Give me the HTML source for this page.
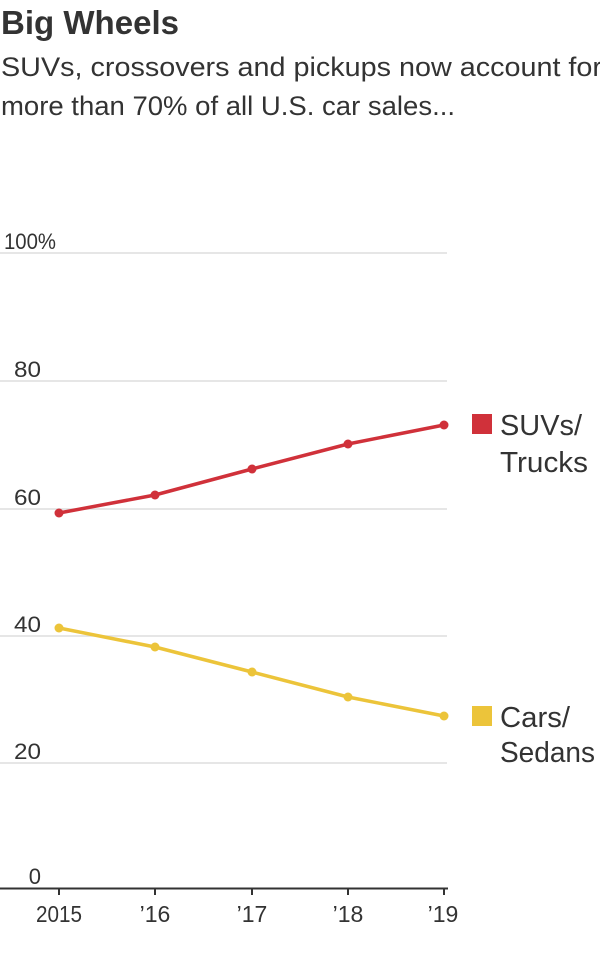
<!DOCTYPE html>
<html><head><meta charset="utf-8"><style>
body{margin:0;width:600px;height:950px;background:#fff;font-family:"Liberation Sans",sans-serif;color:#333;overflow:hidden}
</style></head><body>
<svg width="600" height="950" xmlns="http://www.w3.org/2000/svg" font-family="Liberation Sans, sans-serif">
<text x="1" y="34" font-size="33" font-weight="bold" fill="#333" textLength="178" lengthAdjust="spacingAndGlyphs">Big Wheels</text>
<text x="1" y="76" font-size="27" fill="#333" textLength="601" lengthAdjust="spacingAndGlyphs">SUVs, crossovers and pickups now account for</text>
<text x="1" y="115" font-size="27" fill="#333" textLength="454" lengthAdjust="spacingAndGlyphs">more than 70% of all U.S. car sales...</text>
<g stroke="#ddd" stroke-width="1.5">
<line x1="0" x2="447" y1="253" y2="253"/><line x1="0" x2="447" y1="381" y2="381"/>
<line x1="0" x2="447" y1="509" y2="509"/><line x1="0" x2="447" y1="636" y2="636"/>
<line x1="0" x2="447" y1="763" y2="763"/>
</g>
<g font-size="22" fill="#333">
<text x="4" y="249" textLength="52" lengthAdjust="spacingAndGlyphs">100%</text>
</g>
<g font-size="22" fill="#333" text-anchor="end">
<text x="41" y="377" textLength="27" lengthAdjust="spacingAndGlyphs">80</text><text x="41" y="505" textLength="27" lengthAdjust="spacingAndGlyphs">60</text><text x="41" y="632" textLength="27" lengthAdjust="spacingAndGlyphs">40</text>
<text x="41" y="759" textLength="27" lengthAdjust="spacingAndGlyphs">20</text><text x="41" y="884">0</text>
</g>
<line x1="0" x2="448" y1="888.5" y2="888.5" stroke="#333" stroke-width="2"/>
<g stroke="#333" stroke-width="2">
<line x1="59" x2="59" y1="888" y2="895"/><line x1="155" x2="155" y1="888" y2="895"/>
<line x1="252" x2="252" y1="888" y2="895"/><line x1="348" x2="348" y1="888" y2="895"/>
<line x1="444" x2="444" y1="888" y2="895"/>
</g>
<g font-size="23" fill="#333" text-anchor="middle">
<text x="59" y="922" textLength="46" lengthAdjust="spacingAndGlyphs">2015</text><text x="155" y="922">’16</text><text x="252" y="922">’17</text>
<text x="348" y="922">’18</text><text x="443" y="922">’19</text>
</g>
<polyline points="59,513 155,495 252,469 348,444 444,425" fill="none" stroke="#d0313a" stroke-width="3.5"/>
<g fill="#d0313a"><circle cx="59" cy="513" r="4.5"/><circle cx="155" cy="495" r="4.5"/><circle cx="252" cy="469" r="4.5"/><circle cx="348" cy="444" r="4.5"/><circle cx="444" cy="425" r="4.5"/></g>
<polyline points="59,628 155,647 252,672 348,697 444,716" fill="none" stroke="#ecc43a" stroke-width="3.5"/>
<g fill="#ecc43a"><circle cx="59" cy="628" r="4.5"/><circle cx="155" cy="647" r="4.5"/><circle cx="252" cy="672" r="4.5"/><circle cx="348" cy="697" r="4.5"/><circle cx="444" cy="716" r="4.5"/></g>
<rect x="472" y="414" width="20" height="20" fill="#d0313a"/>
<text x="500" y="435" font-size="29" fill="#333" textLength="82" lengthAdjust="spacingAndGlyphs">SUVs/</text>
<text x="500" y="472" font-size="29" fill="#333" textLength="88" lengthAdjust="spacingAndGlyphs">Trucks</text>
<rect x="472" y="706" width="20" height="20" fill="#ecc43a"/>
<text x="500" y="727" font-size="29" fill="#333" textLength="70" lengthAdjust="spacingAndGlyphs">Cars/</text>
<text x="500" y="762" font-size="29" fill="#333" textLength="95" lengthAdjust="spacingAndGlyphs">Sedans</text>
</svg>
</body></html>
